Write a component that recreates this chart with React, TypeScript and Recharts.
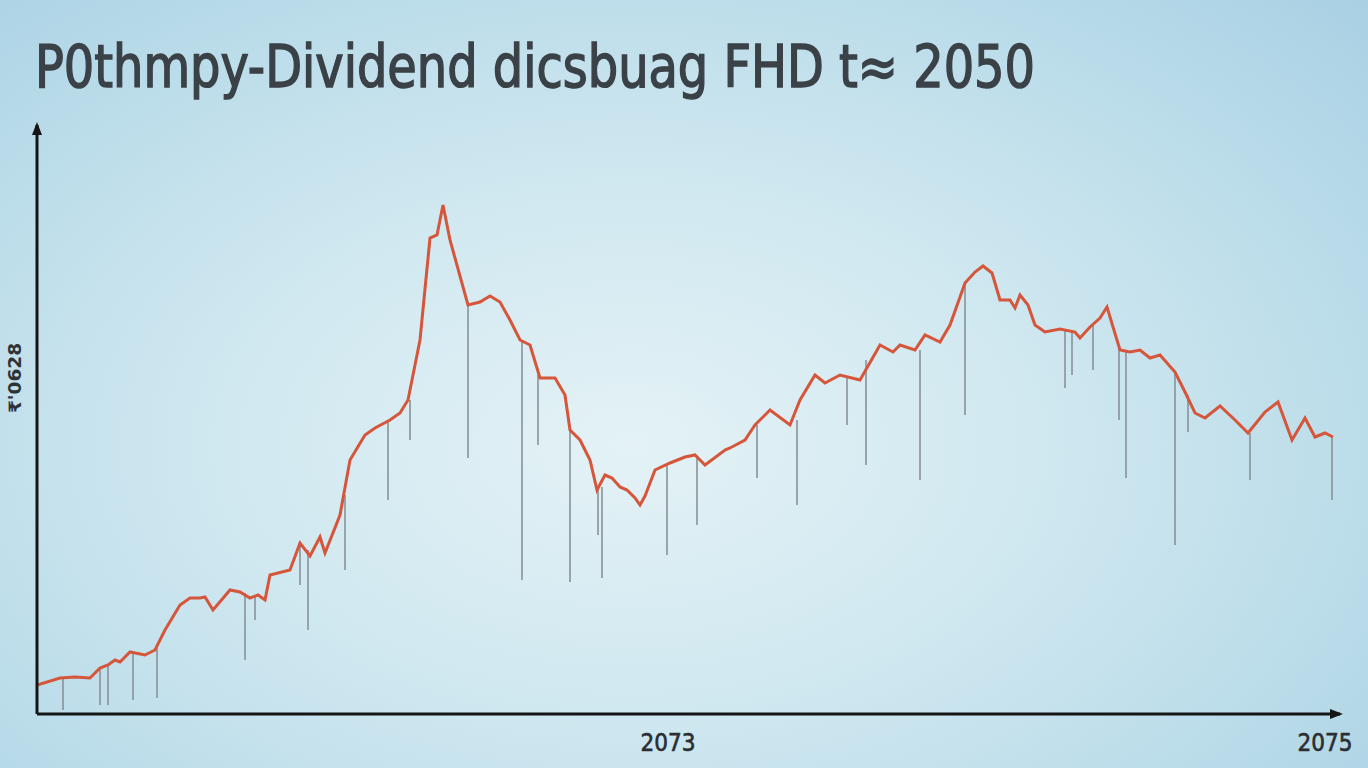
import { ComposedChart, Line, Scatter, ErrorBar, XAxis, YAxis } from "recharts";

const title = "P0thmpy-Dividend dicsbuag FHD t≈ 2050";
const yLabel = "₹'0628";

// time index (days) and value
const lineT = [
  0, 23, 38, 53, 63, 71, 78, 83, 93, 108, 118, 128, 143, 153, 163, 168, 176, 193, 203, 213, 221, 228, 233, 253, 263,
  273, 283, 288, 303, 313, 328, 338, 353, 363, 371, 383, 393, 400, 406, 413, 431, 443, 453, 463, 473, 483, 493, 503,
  518, 528, 533, 543, 553, 560, 568, 575, 583, 590, 598, 603, 608, 618, 633, 648, 658, 668, 688, 693, 708, 718, 733,
  753, 763, 778, 788, 803, 823, 843, 856, 863, 878, 888, 903, 913, 928, 938, 946, 955, 963, 973, 978, 983, 991, 998,
  1008, 1023, 1038, 1043, 1053, 1063, 1070, 1083, 1093, 1103, 1113, 1123, 1138, 1148, 1158, 1168, 1183, 1198, 1211,
  1228, 1241, 1255, 1268, 1278, 1288, 1296,
];
const lineV = [
  2.9, 3.6, 3.7, 3.6, 4.6, 4.9, 5.4, 5.2, 6.2, 5.9, 6.4, 8.4, 10.9, 11.6, 11.6, 11.7, 10.4, 12.4, 12.2, 11.6, 11.9,
  11.4, 13.9, 14.4, 17.1, 15.8, 17.7, 16.1, 19.9, 25.4, 27.9, 28.6, 29.4, 30.1, 31.4, 37.4, 47.6, 47.9, 50.9, 47.4,
  40.9, 41.2, 41.8, 41.2, 39.4, 37.4, 36.9, 33.6, 33.6, 31.9, 28.4, 27.4, 25.4, 22.4, 23.9, 23.6, 22.7, 22.4, 21.6,
  20.9, 21.8, 24.4, 25.1, 25.7, 25.9, 24.9, 26.4, 26.6, 27.4, 28.9, 30.4, 28.9, 31.4, 33.9, 33.1, 33.9, 33.4, 36.9,
  36.2, 36.9, 36.4, 37.9, 37.2, 38.9, 43.1, 44.2, 44.8, 44.1, 41.4, 41.4, 40.6, 41.9, 40.9, 38.9, 38.2, 38.5, 38.2,
  37.6, 38.7, 39.6, 40.7, 36.4, 36.2, 36.4, 35.6, 35.9, 34.2, 32.2, 30.1, 29.6, 30.8, 29.4, 28.1, 30.2, 31.2, 27.4,
  29.6, 27.7, 28.1, 27.7,
];

// gray drop lines: position, top (on the line) and bottom
const dropT = [
  26, 63, 71, 96, 120, 208, 218, 263, 271, 308, 351, 373, 431, 485, 501, 533, 561, 565, 630, 660, 720, 760, 810, 829,
  883, 928, 1028, 1035, 1056, 1082, 1089, 1138, 1151, 1213, 1295,
];
const dropTop = [
  3.6, 4.6, 4.9, 6.1, 6.6, 12.1, 11.7, 17.1, 16.4, 21.9, 29.4, 31.4, 40.9, 37.4, 33.9, 28.4, 22.4, 22.7, 25.1, 25.6,
  28.9, 29.4, 33.6, 35.4, 36.4, 43.1, 38.4, 38.4, 38.9, 36.6, 36.2, 34.2, 31.9, 28.1, 27.7,
];
const dropBottom = [
  0.4, 0.9, 0.9, 1.4, 1.6, 5.4, 9.4, 12.9, 8.4, 14.4, 21.4, 27.4, 25.6, 13.4, 26.9, 13.2, 17.9, 13.6, 15.9, 18.9,
  23.6, 20.9, 28.9, 24.9, 23.4, 29.9, 32.6, 33.9, 34.4, 29.4, 23.6, 16.9, 28.2, 23.4, 21.4,
];

const xTickValues = [631, 1288];
const xTickLabels = ["2073", "2075"];

const narrow = "'DejaVu Sans Condensed', 'Liberation Sans Narrow', 'DejaVu Sans', sans-serif";

export default function App() {
  const lineData = lineT.map((t, i) => ({ t, v: lineV[i] }));
  const dropData = dropT.map((t, i) => ({ t, v: dropTop[i], err: [dropTop[i] - dropBottom[i], 0] }));

  return (
    <div
      style={{
        position: "absolute",
        left: 0,
        top: 0,
        width: 1368,
        height: 768,
        overflow: "hidden",
        background: "radial-gradient(ellipse 75% 85% at 46% 58%, #e4f2f6 0%, #d0e8f0 40%, #b9dbe9 75%, #a8d0e3 100%)",
      }}
    >
      <ComposedChart width={1368} height={768} data={lineData} margin={{ top: 125, right: 28, bottom: 0, left: 0 }}>
        <defs>
          <marker id="arrow" markerUnits="userSpaceOnUse" markerWidth="14" markerHeight="14" viewBox="0 0 14 14" refX="10" refY="7" orient="auto-start-reverse">
            <path d="M0,2 L13,7 L0,12 z" fill="#151515" />
          </marker>
        </defs>
        <XAxis
          dataKey="t"
          type="number"
          domain={[0, 1303]}
          ticks={xTickValues}
          tickFormatter={(v) => xTickLabels[xTickValues.indexOf(Number(v))] ?? ""}
          tickLine={false}
          tickMargin={14}
          height={54}
          axisLine={{ stroke: "#151515", strokeWidth: 3, markerEnd: "url(#arrow)" }}
          tick={{ fill: "#2a2e31", stroke: "#2a2e31", strokeWidth: 0.6, fontSize: 24, fontFamily: narrow }}
          allowDataOverflow
        />
        <YAxis
          type="number"
          domain={[0, 58.9]}
          width={37}
          tick={false}
          tickLine={false}
          axisLine={{ stroke: "#151515", strokeWidth: 3, markerStart: "url(#arrow)" }}
          allowDataOverflow
        />
        <Scatter data={dropData} dataKey="v" shape={() => <g />} isAnimationActive={false}>
          <ErrorBar dataKey="err" direction="y" width={0} stroke="#8d979e" strokeWidth={2} strokeOpacity={0.85} />
        </Scatter>
        <Line
          dataKey="v"
          type="linear"
          stroke="#d5563a"
          strokeWidth={3}
          dot={false}
          activeDot={false}
          isAnimationActive={false}
        />
      </ComposedChart>
      <svg width={1368} height={768} style={{ position: "absolute", left: 0, top: 0, pointerEvents: "none" }}>
        <text
          x={35}
          y={87}
          fontSize={58}
          fill="#3a4147"
          stroke="#3a4147"
          strokeWidth={1.4}
          fontFamily={narrow}
          textLength={1000}
          lengthAdjust="spacingAndGlyphs"
        >
          {title}
        </text>
        <text
          x={21}
          y={378}
          transform="rotate(-90 21 378)"
          textAnchor="middle"
          fontSize={17}
          fontWeight="bold"
          fill="#2f3336"
          fontFamily={narrow}
          textLength={70}
          lengthAdjust="spacingAndGlyphs"
        >
          {yLabel}
        </text>
      </svg>
    </div>
  );
}
